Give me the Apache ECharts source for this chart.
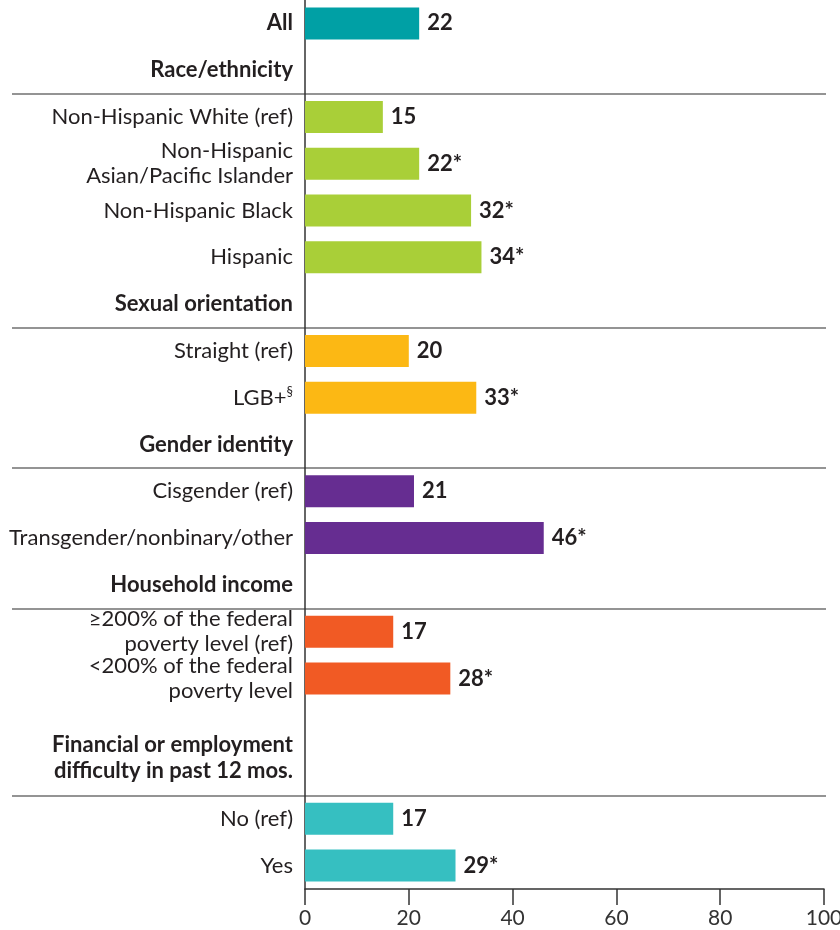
<!DOCTYPE html>
<html>
<head>
<meta charset="utf-8">
<script src="https://cdn.jsdelivr.net/npm/echarts@6/dist/echarts.min.js"></script>
<style>
  html, body { margin: 0; padding: 0; background: #fff; }
  #chart-main { width: 840px; height: 930px; }
</style>
</head>
<body>
<div id="chart-main"></div>
<script>
// rows top to bottom; '' is an empty spacer row
const categories = [
  'All',
  'Race/ethnicity',
  'Non-Hispanic White (ref)',
  'Non-Hispanic\nAsian/Pacific Islander',
  'Non-Hispanic Black',
  'Hispanic',
  'Sexual orientation',
  'Straight (ref)',
  'LGB+§',
  'Gender identity',
  'Cisgender (ref)',
  'Transgender/nonbinary/other',
  'Household income',
  '≥200% of the federal\npoverty level (ref)',
  '<200% of the federal\npoverty level',
  '',
  'Financial or employment\ndifficulty in past 12 mos.',
  'No (ref)',
  'Yes'
];
const values = [22, null, 15, 22, 32, 34, null, 20, 33, null, 21, 46, null, 17, 28, null, null, 17, 29];
const stars = [0, 0, 0, 1, 1, 1, 0, 0, 1, 0, 0, 1, 0, 0, 1, 0, 0, 0, 1];
const groups = ['all', '', 'race', 'race', 'race', 'race', '', 'sex', 'sex', '', 'gender', 'gender', '', 'income', 'income', '', '', 'fin', 'fin'];
const headers = ['All', 'Race/ethnicity', 'Sexual orientation', 'Gender identity', 'Household income',
  'Financial or employment\ndifficulty in past 12 mos.'];
const xTicks = [0, 20, 40, 60, 80, 100];

const palette = {
  all: '#00a0a5',
  race: '#a9cf38',
  sex: '#fcb814',
  gender: '#662d91',
  income: '#f15a24',
  fin: '#36bfc1'
};
const FONT = 'Lato';
const TEXT = '#231f20';
const H = 930;
const BOTTOM = 41;

let myChart = echarts.init(document.getElementById('chart-main'));

function yLabel(value) {
  if (value === '') return '';
  const isHeader = headers.indexOf(value) >= 0;
  const style = isHeader ? 'h' : 'n';
  if (value === 'LGB+§') return '{n|LGB+}{sup|§}';
  const lines = value.split('\n');
  let txt = lines.map(s => '{' + style + '|' + s + '}').join('\n');
  // two-line headers sit a bit higher, closer to the rule below them
  if (isHeader && lines.length > 1) txt += '\n{gap|}';
  return txt;
}

// separator line under each section header (drawn by a second, wider grid)
const lineBefore = [];
categories.forEach((c, i) => {
  if (i > 0 && headers.indexOf(c) >= 0) lineBefore.push(i + 1);
});
// the second grid gets one extra empty row hanging below the page, so the
// closing boundary line echarts always adds falls off-screen
const slot = (H - BOTTOM) / categories.length;
const lineCats = categories.concat(['_end']);

let option = {
  animation: false,
  grid: [
    { left: 305, right: 16, top: 0, bottom: BOTTOM, outerBoundsMode: 'none' },
    { left: 12, right: 14, top: 0, bottom: BOTTOM - slot, outerBoundsMode: 'none' }
  ],
  xAxis: [
    {
      type: 'value',
      gridIndex: 0,
      min: 0,
      max: 100,
      interval: 20,
      splitLine: { show: false },
      axisLine: { show: true, lineStyle: { color: '#333', width: 1.5 } },
      axisTick: { show: true, length: 16, lineStyle: { color: '#333', width: 1.5 } },
      axisLabel: {
        margin: 19,
        fontSize: 21,
        fontFamily: FONT,
        color: '#333',
        formatter: v => (xTicks.indexOf(v) >= 0 ? String(v) : '')
      }
    },
    { type: 'value', gridIndex: 1, min: 0, max: 1, show: false }
  ],
  yAxis: [
    {
      type: 'category',
      gridIndex: 0,
      inverse: true,
      data: categories,
      axisLine: { show: true, lineStyle: { color: '#333', width: 1.5 } },
      axisTick: { show: false },
      axisLabel: {
        margin: 12,
        interval: 0,
        formatter: yLabel,
        rich: {
          n: { fontSize: 22, fontFamily: FONT, color: TEXT, lineHeight: 25, align: 'right' },
          h: { fontSize: 22, fontFamily: FONT, fontWeight: 'bold', color: TEXT, lineHeight: 26, align: 'right' },
          sup: { fontSize: 13, fontFamily: FONT, color: TEXT, verticalAlign: 'top', lineHeight: 25 },
          gap: { fontSize: 10, lineHeight: 28 }
        }
      }
    },
    {
      type: 'category',
      gridIndex: 1,
      inverse: true,
      data: lineCats,
      axisLine: { show: false },
      axisTick: { show: false },
      axisLabel: { show: false },
      splitLine: {
        show: true,
        interval: (idx) => lineBefore.indexOf(idx) >= 0,
        lineStyle: { color: '#707070', width: 1.5 }
      }
    }
  ],
  series: [
    {
      type: 'bar',
      xAxisIndex: 0,
      yAxisIndex: 0,
      barWidth: 32,
      data: values.map((v, i) => v === null ? '-' : { value: v, itemStyle: { color: palette[groups[i]] } }),
      label: {
        show: true,
        position: 'right',
        distance: 8,
        fontSize: 22,
        fontWeight: 'bold',
        fontFamily: FONT,
        color: TEXT,
        formatter: p => values[p.dataIndex] + (stars[p.dataIndex] ? '*' : '')
      }
    }
  ]
};
myChart.setOption(option);
</script>
</body>
</html>
